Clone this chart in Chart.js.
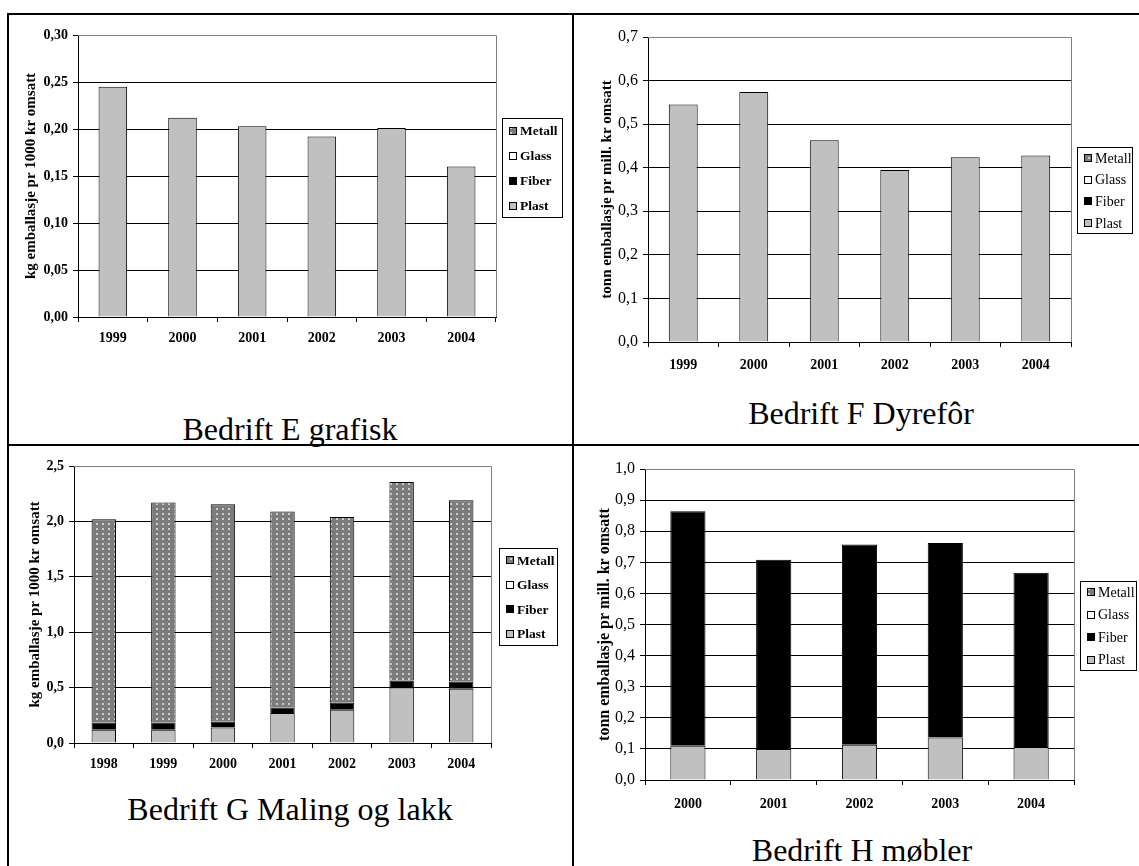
<!DOCTYPE html>
<html>
<head>
<meta charset="utf-8">
<script src="https://cdn.jsdelivr.net/npm/chart.js@4.4.1/dist/chart.umd.min.js"></script>
<style>
  html, body { margin: 0; padding: 0; background: #fff; }
  body { position: relative; width: 1139px; height: 866px; overflow: hidden; font-family: "Liberation Serif", "Times New Roman", serif; color: #000; }
  .rule { position: absolute; background: #000; }
  .panel-title { position: absolute; font-size: 32px; line-height: 32px; white-space: nowrap; transform: translateX(-50%); }
  canvas { position: absolute; }
</style>
</head>
<body>
<div class="rule" style="left:8px;top:13px;width:1131px;height:2px"></div>
<div class="rule" style="left:8px;top:444px;width:1131px;height:2px"></div>
<div class="rule" style="left:7px;top:13px;width:2px;height:853px"></div>
<div class="rule" style="left:572px;top:13px;width:2px;height:853px"></div>

<script>
// Emballasje per omsetning for fire bedrifter, fordelt på materiale.
const seriesNames = ['Plast', 'Fiber', 'Glass', 'Metall'];

// Bedrift E grafisk (kg per 1000 kr)
const yearsE  = ['1999', '2000', '2001', '2002', '2003', '2004'];
const plastE  = [0.245, 0.212, 0.203, 0.192, 0.201, 0.160];
const fiberE  = [0, 0, 0, 0, 0, 0];
const glassE  = [0, 0, 0, 0, 0, 0];
const metallE = [0, 0, 0, 0, 0, 0];

// Bedrift F Dyrefôr (tonn per mill. kr)
const yearsF  = ['1999', '2000', '2001', '2002', '2003', '2004'];
const plastF  = [0.545, 0.574, 0.463, 0.395, 0.424, 0.428];
const fiberF  = [0, 0, 0, 0, 0, 0];
const glassF  = [0, 0, 0, 0, 0, 0];
const metallF = [0, 0, 0, 0, 0, 0];

// Bedrift G Maling og lakk (kg per 1000 kr)
const yearsG  = ['1998', '1999', '2000', '2001', '2002', '2003', '2004'];
const plastG  = [0.12, 0.12, 0.14, 0.27, 0.30, 0.50, 0.49];
const fiberG  = [0.065, 0.065, 0.055, 0.05, 0.065, 0.065, 0.065];
const glassG  = [0, 0, 0, 0, 0, 0, 0];
const metallG = [1.835, 1.985, 1.96, 1.77, 1.675, 1.79, 1.635];

// Bedrift H møbler (tonn per mill. kr)
const yearsH  = ['2000', '2001', '2002', '2003', '2004'];
const plastH  = [0.11, 0.10, 0.113, 0.137, 0.106];
const fiberH  = [0.754, 0.608, 0.644, 0.625, 0.56];
const glassH  = [0, 0, 0, 0, 0];
const metallH = [0, 0, 0, 0, 0];

// Layout of each panel, in page pixels: canvas box, plot box, legend box, title baseline.
const panels = [
  { title: 'Bedrift E grafisk', yTitle: 'kg emballasje pr 1000 kr omsatt',
    labels: yearsE, series: [plastE, fiberE, glassE, metallE],
    yMax: 0.30, yStep: 0.05, decimals: 2,
    canvas: [10, 16, 560, 364], plot: [78, 35, 496, 317], legend: [502, 118, 61, 100],
    titleAt: [290, 440], yTitleSize: 15, yTitlePad: 12,
    yTick: { size: 14, weight: 'bold' }, xTick: { size: 14, weight: 'bold' }, xTickPad: 8,
    legendFont: { size: 13.5, bold: true } },
  { title: 'Bedrift F Dyrefôr', yTitle: 'tonn emballasje pr mill. kr omsatt',
    labels: yearsF, series: [plastF, fiberF, glassF, metallF],
    yMax: 0.7, yStep: 0.1, decimals: 1,
    canvas: [576, 16, 562, 364], plot: [648, 37, 1071, 342], legend: [1077, 147, 56, 87],
    titleAt: [861, 424], yTitleSize: 15, yTitlePad: 22,
    yTick: { size: 16, weight: 'normal' }, xTick: { size: 14, weight: 'bold' }, xTickPad: 10,
    legendFont: { size: 14, bold: false } },
  { title: 'Bedrift G Maling og lakk', yTitle: 'kg emballasje pr 1000 kr omsatt',
    labels: yearsG, series: [plastG, fiberG, glassG, metallG],
    yMax: 2.5, yStep: 0.5, decimals: 1,
    canvas: [10, 447, 560, 340], plot: [74, 466, 491, 743], legend: [499, 548, 59, 98],
    titleAt: [290, 820], yTitleSize: 15, yTitlePad: 16,
    yTick: { size: 14, weight: 'bold' }, xTick: { size: 14, weight: 'bold' }, xTickPad: 8,
    legendFont: { size: 13.5, bold: true } },
  { title: 'Bedrift H møbler', yTitle: 'tonn emballasje pr mill. kr omsatt',
    labels: yearsH, series: [plastH, fiberH, glassH, metallH],
    yMax: 1.0, yStep: 0.1, decimals: 1,
    canvas: [576, 447, 562, 380], plot: [645, 469, 1074, 780], legend: [1080, 581, 57, 90],
    titleAt: [862, 861], yTitleSize: 16, yTitlePad: 19,
    yTick: { size: 16, weight: 'normal' }, xTick: { size: 14, weight: 'bold' }, xTickPad: 11,
    legendFont: { size: 14, bold: false } }
];

const PLAST_FILL = '#c0c0c0';
const FIBER_FILL = '#000000';
const GLASS_FILL = '#ffffff';

// Grey fill with a light dot grid for metal packaging
function metallPattern(ctx) {
  const tile = document.createElement('canvas');
  tile.width = 6; tile.height = 5;
  const t = tile.getContext('2d');
  t.fillStyle = '#7c7c7c';
  t.fillRect(0, 0, 6, 5);
  t.fillStyle = '#cfcfcf';
  t.fillRect(2, 1, 2, 2);
  return ctx.createPattern(tile, 'repeat');
}

// Thin grey frame along the top and right of the plot area
const plotFrame = {
  id: 'plotFrame',
  beforeDatasetsDraw(chart) {
    const { ctx, chartArea: a } = chart;
    const r = Math.round(a.right - 0.5) + 0.5;
    const t = Math.round(a.top - 0.5) + 0.5;
    ctx.save();
    ctx.strokeStyle = '#808080';
    ctx.lineWidth = 1;
    ctx.beginPath();
    ctx.moveTo(a.left, t);
    ctx.lineTo(r, t);
    ctx.lineTo(r, a.bottom);
    ctx.stroke();
    ctx.restore();
  }
};

// Boxed legend listing the series top-down in reverse stacking order
const boxLegend = {
  id: 'boxLegend',
  afterDraw(chart, args, o) {
    const ctx = chart.ctx;
    const [x, y, w, h] = o.rect;
    ctx.save();
    ctx.fillStyle = '#fff';
    ctx.fillRect(x, y, w, h);
    ctx.strokeStyle = '#000';
    ctx.lineWidth = 1;
    ctx.strokeRect(x + 0.5, y + 0.5, w - 1, h - 1);
    const items = chart.data.datasets.slice().reverse();
    const step = h / items.length;
    ctx.font = (o.bold ? 'bold ' : '') + o.size + 'px "Liberation Serif"';
    ctx.textBaseline = 'middle';
    ctx.textAlign = 'left';
    items.forEach((ds, i) => {
      const cy = y + step * (i + 0.5);
      const sz = 8;
      const sx = x + 7;
      const sy = Math.round(cy - sz / 2);
      ctx.fillStyle = ds.backgroundColor;
      ctx.fillRect(sx, sy, sz, sz);
      ctx.strokeStyle = '#000';
      ctx.strokeRect(sx + 0.5, sy + 0.5, sz - 1, sz - 1);
      ctx.fillStyle = '#000';
      ctx.fillText(ds.label, x + 18, cy + 1);
    });
    ctx.restore();
  }
};

Chart.defaults.font.family = '"Liberation Serif", "Times New Roman", serif';
Chart.defaults.color = '#000';

function buildPanel(p) {
  const [cx, cy, cw, ch] = p.canvas;
  const cv = document.createElement('canvas');
  cv.width = cw; cv.height = ch;
  cv.style.left = cx + 'px'; cv.style.top = cy + 'px';
  cv.style.width = cw + 'px'; cv.style.height = ch + 'px';
  document.body.appendChild(cv);
  const ctx = cv.getContext('2d');

  const fills = [PLAST_FILL, FIBER_FILL, GLASS_FILL, metallPattern(ctx)];
  const datasets = seriesNames.map((name, i) => ({
    label: name,
    data: p.series[i],
    backgroundColor: fills[i],
    borderColor: '#000',
    borderWidth: 1,
    barPercentage: 0.41,
    categoryPercentage: 1
  }));

  const yAxisWidth = p.plot[0] - cx;
  const padTop = p.plot[1] - cy;
  const padRight = (cx + cw) - p.plot[2];
  const xAxisHeight = 35;
  const padBottom = (cy + ch) - p.plot[3] - xAxisHeight;
  const lg = p.legend;

  new Chart(ctx, {
    type: 'bar',
    data: { labels: p.labels, datasets },
    plugins: [plotFrame, boxLegend],
    options: {
      responsive: false,
      animation: false,
      events: [],
      layout: { padding: { left: 0, top: padTop, right: padRight, bottom: padBottom } },
      plugins: {
        legend: { display: false },
        tooltip: { enabled: false },
        boxLegend: {
          rect: [lg[0] - cx, lg[1] - cy, lg[2], lg[3]],
          size: p.legendFont.size,
          bold: p.legendFont.bold
        }
      },
      scales: {
        x: {
          stacked: true,
          afterFit: s => { s.height = xAxisHeight; },
          grid: { display: true, drawOnChartArea: false, drawTicks: true, tickLength: 5, color: '#000', offset: true },
          border: { display: true, color: '#000', width: 1 },
          ticks: { font: { size: p.xTick.size, weight: p.xTick.weight }, color: '#000', padding: p.xTickPad, maxRotation: 0, autoSkip: false }
        },
        y: {
          stacked: true,
          min: 0,
          max: p.yMax,
          afterFit: s => { s.width = yAxisWidth; },
          ticks: {
            stepSize: p.yStep,
            callback: v => Number(v).toFixed(p.decimals).replace('.', ','),
            font: { size: p.yTick.size, weight: p.yTick.weight },
            color: '#000',
            padding: 5
          },
          grid: {
            color: c => (c.tick && c.tick.value >= p.yMax - 1e-9) ? '#808080' : '#000',
            tickColor: '#000',
            tickLength: 5,
            lineWidth: 1
          },
          border: { display: true, color: '#000', width: 1 },
          title: {
            display: true,
            text: p.yTitle,
            font: { size: p.yTitleSize, weight: 'bold' },
            color: '#000',
            padding: { top: p.yTitlePad, bottom: 0 }
          }
        }
      }
    }
  });

  const t = document.createElement('div');
  t.className = 'panel-title';
  t.textContent = p.title;
  t.style.left = p.titleAt[0] + 'px';
  t.style.top = (p.titleAt[1] - 27) + 'px';
  document.body.appendChild(t);
}

panels.forEach(buildPanel);
</script>
</body>
</html>
